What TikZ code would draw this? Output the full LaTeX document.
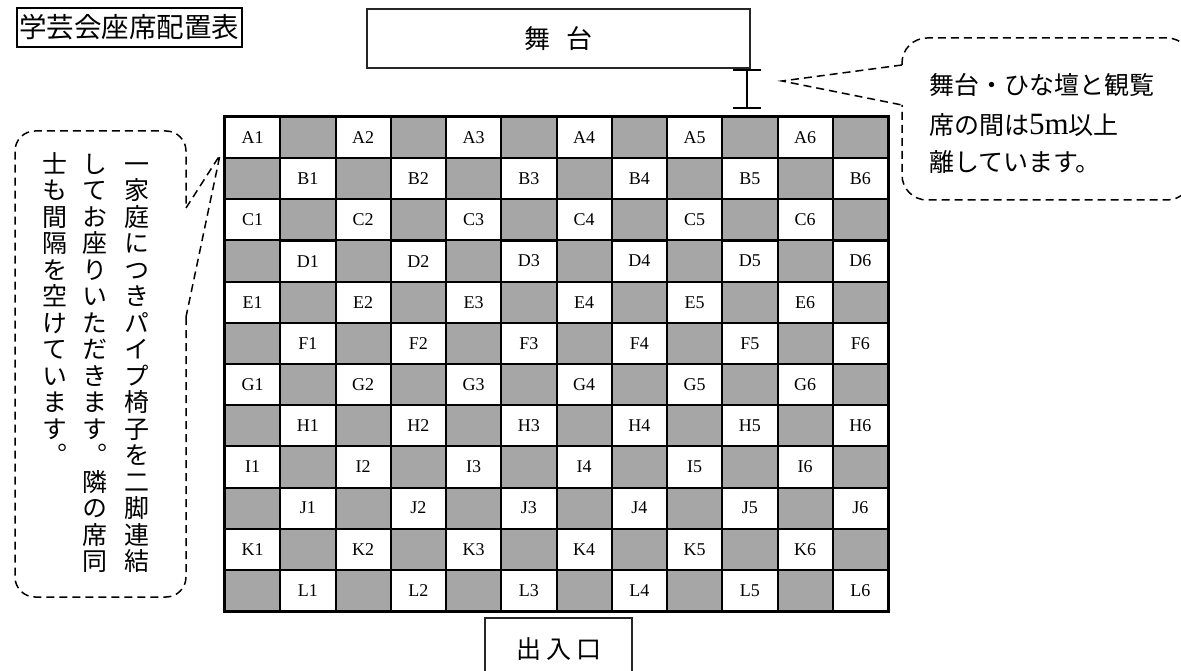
\documentclass[tikz,border=0pt]{standalone}
\usepackage{fontspec}
\setmainfont{Liberation Serif}
\newfontfamily\jp{Noto Sans CJK JP}
\newfontfamily\jpv{Noto Sans CJK JP}[RawFeature=+vert]
\definecolor{seatgray}{HTML}{A6A6A6}
\newcommand\tatecol[1]{\vbox{\offinterlineskip\tateloop#1\relax}}
\def\tateloop#1{\ifx\relax#1\else\hbox to 25pt{\hss#1\hss\vrule height 23pt depth 3.5pt width 0pt}\expandafter\tateloop\fi}
\tikzset{
  seat/.style={draw, line width=2pt, minimum width=55.25pt, minimum height=41.17pt, inner sep=0pt, font=\fontsize{18}{18}\selectfont},
  dashline/.style={dash pattern=on 8pt off 5pt, line width=1.5pt},
  jptext/.style={font=\jp\fontsize{25}{25}\selectfont, inner sep=0pt},
  tate/.style={font=\jpv\fontsize{25}{25}\selectfont, inner sep=0pt, anchor=north},
}
\begin{document}
\begin{tikzpicture}[x=1pt,y=-1pt]
\useasboundingbox (0,0) rectangle (1181,671);
\clip (0,0) rectangle (1181,671);
% title
\node[draw, line width=2pt, minimum width=225pt, minimum height=39pt, inner sep=0pt,
  font=\jp\fontsize{27.5}{27.5}\selectfont] (title) at (129.5,27.5) {学芸会座席配置表};
% stage
\node[draw=black!85, line width=1.3pt, minimum width=383pt, minimum height=59pt, inner sep=0pt,
  font=\jp\fontsize{26}{26}\selectfont] (stage) at (558.5,38.5) {舞\hspace{0.65em}台};
% seats
\foreach \row [count=\i from 0] in {A,B,C,D,E,F,G,H,I,J,K,L} {
  \foreach \j in {0,...,11} {
    \pgfmathtruncatemacro\odd{mod(\i+\j,2)}
    \pgfmathtruncatemacro\num{int(\j/2)+1}
    \pgfmathsetmacro\cx{225+55.25*(\j+0.5)}
    \pgfmathsetmacro\cy{117+41.1667*(\i+0.5)}
    \ifnum\odd=1
      \node[seat, fill=seatgray] (s\i-\j) at (\cx,\cy) {};
    \else
      \node[seat] (s\i-\j) at (\cx,\cy) {\row\num};
    \fi
  }
}
\draw[line width=2.5pt] (s0-0.north west) rectangle (s11-11.south east);
% gap marker
\coordinate (gT) at (747,70);
\coordinate (gB) at (747,108);
\draw[line width=2.5pt] (gT) -- (gB);
\draw[line width=2.5pt] ([xshift=-14pt]gT) -- ([xshift=14pt]gT);
\draw[line width=2.5pt] ([xshift=-14pt]gB) -- ([xshift=14pt]gB);
% right callout
\coordinate (rTip) at (782,81);
\coordinate (rA) at (902,65);
\coordinate (rB) at (902,105);
\draw[dashline, rounded corners=25pt] (rA) -- (902,38) -- (1192,38) -- (1192,200) -- (902,200) -- (rB);
\draw[dashline] (rA) -- (rTip) -- (rB);
\node[jptext, anchor=base west] (r1) at (929,94.5) {舞台・ひな壇と観覧};
\node[jptext, anchor=base west] (r2) at (929,134.5) {席の間は{\rmfamily\fontsize{31}{31}\selectfont 5m}以上};
\node[jptext, anchor=base west] (r3) at (929,171.5) {離しています。};
% left callout
\coordinate (lTip) at (220,155);
\coordinate (lA) at (186,208);
\coordinate (lB) at (186,317);
\draw[dashline, rounded corners=20pt] (lB) -- (186,597) -- (15,597) -- (15,131) -- (186,131) -- (lA);
\draw[dashline] (lA) -- (lTip) -- (lB);
\node[tate] (c1) at (137,150) {\tatecol{一家庭につきパイプ椅子を二脚連結}};
\node[tate] (c2) at (95,150) {\tatecol{してお座りいただきます。隣の席同}};
\node[tate] (c3) at (55,150) {\tatecol{士も間隔を空けています。}};
% entrance
\node[draw=black!85, line width=1.3pt, minimum width=147pt, minimum height=62pt, inner sep=0pt,
  font=\jp\fontsize{25}{25}\selectfont] (door) at (558.5,649) {出\hspace{5pt}入\hspace{5pt}口};
\end{tikzpicture}
\end{document}
